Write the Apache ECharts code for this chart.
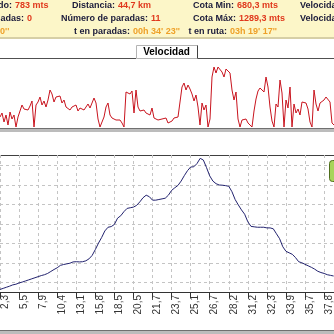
<!DOCTYPE html>
<html><head><meta charset="utf-8">
<script src="https://cdn.jsdelivr.net/npm/echarts@6/dist/echarts.min.js"></script>
<style>html,body{margin:0;padding:0;background:#fff}#c{width:334px;height:334px}</style>
</head><body><div id="c"></div>
<script>
// ---- data ----
const speedValues = [10,14,5,12,2,15,8,12,0,10,16,22,18,20,17,21,26,0,22,25,30,22,26,20,27,37,33,25,30,28,31,24,27,20,19,17,20,18,22,16,19,21,17,20,23,19,17,29,24,8,0,5,10,20,24,12,9,8,7,6,7,4,0,35,37,33,36,14,37,20,16,15,17,14,15,12,19,9,8,7,9,8,8,9,4,2,6,9,8,10,12,40,44,37,42,38,33,26,32,20,2,24,17,22,0,8,50,60,54,60,61,55,50,58,58,54,37,27,35,8,0,7,5,8,4,2,0,16,28,36,39,40,35,50,40,20,6,0,23,20,47,34,0,27,19,40,0,23,14,18,12,25,27,24,18,5,0,37,23,16,24,25,27,30,32,25,4,2];
const elevation = [688,693,698,703,709,712,718,722,727,732,
737,742,747,752,756,762,771,780,788,799,
803,806,809,815,816,815,816,820,829,845,
872,902,928,958,975,978,988,1017,1028,1047,
1062,1065,1068,1076,1092,1111,1123,1116,1100,1100,
1103,1106,1109,1123,1145,1157,1168,1188,1213,1236,
1253,1254,1269,1293,1285,1250,1212,1188,1176,1170,
1169,1167,1164,1139,1103,1078,1055,1035,1000,979,
977,975,975,975,972,972,968,945,922,885,
864,857,850,835,816,811,804,797,790,782,
772,766,762,756,753,750];
const distLabels = ['2,3','5,5','7,9','10,4','13,1','15,8','18,5','20,5','21,7','23,7','25,1','26,7','28,2','31,2','32,3','33,9','35,7','37,8'];
const headerLabels = ['lado:','Distancia:','Cota Min:','Velocida','adas:','Número de paradas:','Cota Máx:','Velocida','','t en paradas:','t en ruta:'];
const headerValues = ['783 mts','44,7 km','680,3 mts','','0','11','1289,3 mts','',"0''","00h 34' 23''","03h 19' 17''"];
const tabTitle = 'Velocidad';

// ---- layout ----
const headerPos = [[15,5.5],[118,5.5],[237,5.5],[300,5.5],[27,18.5],[151,18.5],[239,18.5],[300,18.5],[0,32],[133,32],[230,32]];
const FONT = '"Liberation Sans", Arial, sans-serif';
const g = [];
g.push({type:'rect', shape:{x:0,y:0,width:334,height:37}, style:{fill:'#fcf6c8'}, silent:true});
g.push({type:'rect', shape:{x:0,y:37,width:334,height:2}, style:{fill:'#d6cfa6'}, silent:true});
headerLabels.forEach((lab, i) => {
  const [vx, vy] = headerPos[i];
  const val = headerValues[i];
  const row3 = vy > 30;
  if (val === '') {
    g.push({type:'text', x: vx, y: vy, style:{text: lab, fill:'#1a1a3a', font:'bold 9px ' + FONT, align:'left', verticalAlign:'middle'}});
  } else {
    if (lab) g.push({type:'text', x: vx - 3, y: vy, style:{text: lab, fill:'#1a1a3a', font:'bold 9px ' + FONT, align:'right', verticalAlign:'middle'}});
    g.push({type:'text', x: vx, y: vy, style:{text: val, fill: row3 ? '#eea028' : '#e0381c', font:'bold 9px ' + FONT, align:'left', verticalAlign:'middle'}});
  }
});
// tab
g.push({type:'line', shape:{x1:0,y1:58.5,x2:136,y2:58.5}, style:{stroke:'#505050', lineWidth:1}});
g.push({type:'line', shape:{x1:197,y1:58.5,x2:334,y2:58.5}, style:{stroke:'#505050', lineWidth:1}});
g.push({type:'rect', shape:{x:136.5,y:45.5,width:61,height:13}, style:{fill:'#fff', stroke:'#b4b4b4', lineWidth:1}});
g.push({type:'line', shape:{x1:197.5,y1:45.5,x2:197.5,y2:58.5}, style:{stroke:'#404040', lineWidth:1}});
g.push({type:'text', x:166.5, y:52.5, style:{text: tabTitle, fill:'#000', font:'bold 10px ' + FONT, align:'center', verticalAlign:'middle'}});
// bands
g.push({type:'rect', shape:{x:0,y:128,width:334,height:1}, style:{fill:'#707070'}, silent:true});
g.push({type:'rect', shape:{x:0,y:129,width:334,height:3}, style:{fill:'#bcbcbc'}, silent:true});
g.push({type:'line', shape:{x1:0,y1:155.5,x2:334,y2:155.5}, style:{stroke:'#404040', lineWidth:1}});
g.push({type:'rect', shape:{x:0,y:330,width:334,height:1}, style:{fill:'#707070'}, silent:true});
g.push({type:'rect', shape:{x:0,y:331,width:334,height:3}, style:{fill:'#bcbcbc'}, silent:true});
// green button
g.push({type:'rect', shape:{x:329.5,y:160.5,width:10,height:21,r:3}, style:{fill:'#a8d45a', stroke:'#4e6e1c', lineWidth:1}, z:10});

const chart = echarts.init(document.getElementById('c'), null, {renderer:'canvas'});
chart.setOption({
  animation: false,
  backgroundColor: '#fff',
  grid: [
    {left:0, right:0, top:57, bottom:207},
    {left:-3.7, right:-1.4, top:155, bottom:42},
    {left:0, right:0, top:165.5, bottom:51.5}
  ],
  xAxis: [
    {gridIndex:0, type:'category', boundaryGap:false, data: speedValues.map((_, i) => i), show:false},
    {gridIndex:1, type:'category', boundaryGap:false, data: elevation.map((_, i) => i),
      axisLine:{show:true, lineStyle:{color:'#333', width:1}},
      axisTick:{show:true, interval:5, length:6, lineStyle:{color:'#333'}},
      splitLine:{show:true, interval:5, lineStyle:{color:'#c4c4c4', type:[3,3], width:1}},
      axisLabel:{show:true, interval:5, rotate:90, margin:3, fontSize:10, fontFamily:FONT, color:'#333', verticalAlign:'top',
        formatter: (v, idx) => distLabels[Math.round(idx / 6)] || ''}},
    {gridIndex:2, type:'value', min:0, max:1, show:false}
  ],
  yAxis: [
    {gridIndex:0, type:'value', min:0, max:70, show:false},
    {gridIndex:1, type:'value', min:676.2, max:1308.4, show:false, splitLine:{show:false}},
    {gridIndex:2, type:'value', min:720, max:1260, interval:90,
      axisLine:{show:false}, axisTick:{show:false}, axisLabel:{show:false},
      splitLine:{show:true, lineStyle:{color:'#c4c4c4', type:[3,3], width:1}}}
  ],
  series: [
    {type:'line', xAxisIndex:0, yAxisIndex:0, data: speedValues, showSymbol:false, lineStyle:{color:'#c8141e', width:1}},
    {type:'line', xAxisIndex:1, yAxisIndex:1, data: elevation, showSymbol:false, lineStyle:{color:'#22226e', width:1}}
  ],
  graphic: g
});
</script></body></html>
